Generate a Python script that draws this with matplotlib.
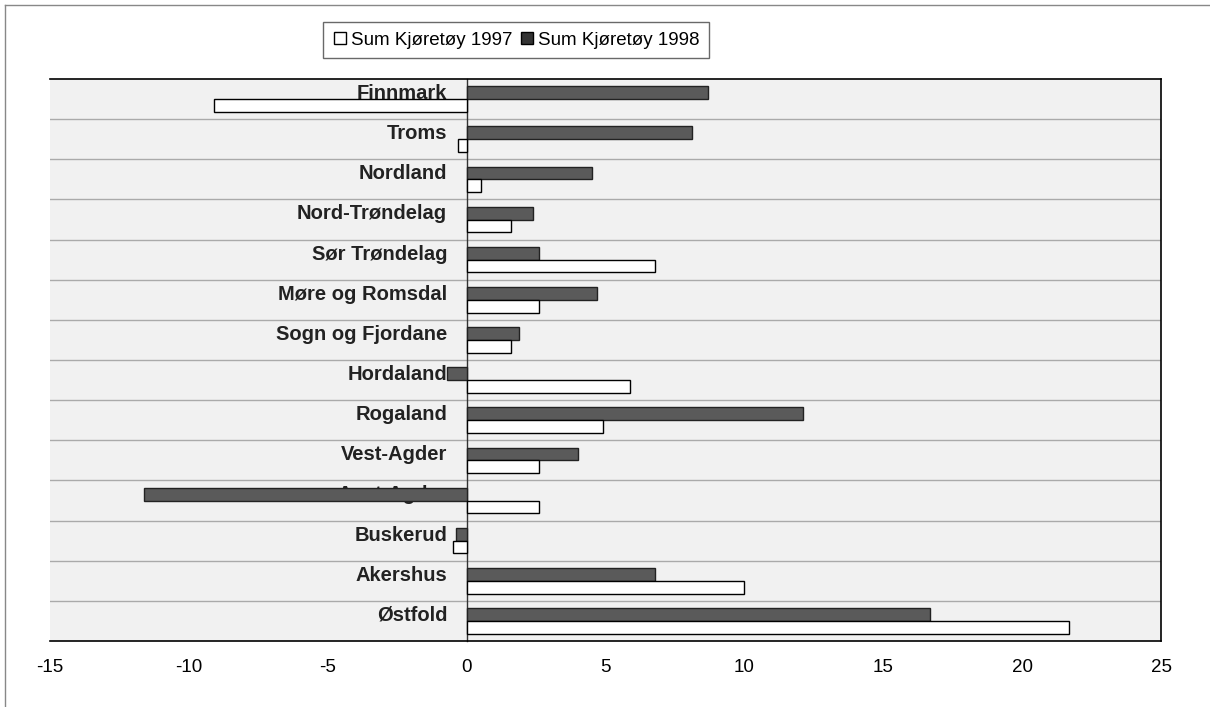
import numpy as np
import matplotlib.pyplot as plt
from matplotlib.lines import Line2D

counties = ["Østfold", "Akershus", "Buskerud", "Aust-Agder", "Vest-Agder",
            "Rogaland", "Hordaland", "Sogn og Fjordane", "Møre og Romsdal",
            "Sør Trøndelag", "Nord-Trøndelag", "Nordland", "Troms", "Finnmark"]
sum_1997 = [21.7, 10.0, -0.5, 2.6, 2.6, 4.9, 5.9, 1.6, 2.6, 6.8, 1.6, 0.5, -0.3, -9.1]
sum_1998 = [16.7, 6.8, -0.4, -11.6, 4.0, 12.1, -0.7, 1.9, 4.7, 2.6, 2.4, 4.5, 8.1, 8.7]

plt.rcParams['font.family'] = ['Liberation Sans', 'DejaVu Sans']
plt.rcParams['axes.unicode_minus'] = False

fig = plt.figure(figsize=(12.1, 7.07), dpi=100)
ax = fig.add_axes([50 / 1210, 1 - 641 / 707, 1111 / 1210, 562 / 707])
ax.set_facecolor('#f1f1f1')

y = np.arange(len(counties))
h = 0.32
ax.barh(y + h / 2, sum_1998, height=h, color='#5a5a5a', edgecolor='#222222',
        linewidth=1, zorder=3)
ax.barh(y - h / 2, sum_1997, height=h, color='white', edgecolor='black',
        linewidth=1, zorder=3)

ax.spines['left'].set_position(('data', 0))
ax.spines['left'].set_linewidth(1)
ax.spines['left'].set_color('#333333')
ax.spines['left'].set_zorder(2)
for s in ['top', 'bottom', 'right']:
    ax.spines[s].set_linewidth(1.2)

ax.set_xlim(-15, 25)
ax.set_ylim(-0.5, len(counties) - 0.5)
ax.set_xticks(np.arange(-15, 26, 5))
ax.tick_params(axis='x', length=0, pad=13, labelsize=13.5)

ax.set_yticks([])
# county names sit left of the zero line, a bit above the category centre
for yi, name in zip(y, counties):
    ax.text(-0.7, yi + 0.14, name, ha='right', va='center', fontsize=14.5,
            fontweight='bold', color='#222222', zorder=2)

for b in np.arange(0.5, len(counties) - 0.5, 1):
    ax.axhline(b, color='#aaaaaa', linewidth=1, zorder=1)

handles = [Line2D([], [], marker='s', linestyle='', markerfacecolor='white',
                  markeredgecolor='black', markersize=9),
           Line2D([], [], marker='s', linestyle='', markerfacecolor='#333333',
                  markeredgecolor='black', markersize=9)]
fig.legend(handles, ['Sum Kjøretøy 1997', 'Sum Kjøretøy 1998'],
           loc='center', bbox_to_anchor=(516 / 1210, 1 - 40 / 707), ncol=2,
           fontsize=13.5, frameon=True, fancybox=False, edgecolor='#444444',
           handlelength=0.8, handletextpad=0.2, columnspacing=0.4,
           borderpad=0.5)

fig.add_artist(Line2D([5 / 1210, 1], [1 - 5 / 707, 1 - 5 / 707],
                      transform=fig.transFigure, color='#888888', linewidth=1))
fig.add_artist(Line2D([5 / 1210, 5 / 1210], [0, 1 - 5 / 707],
                      transform=fig.transFigure, color='#888888', linewidth=1))

fig.savefig('out.png', dpi=100)
